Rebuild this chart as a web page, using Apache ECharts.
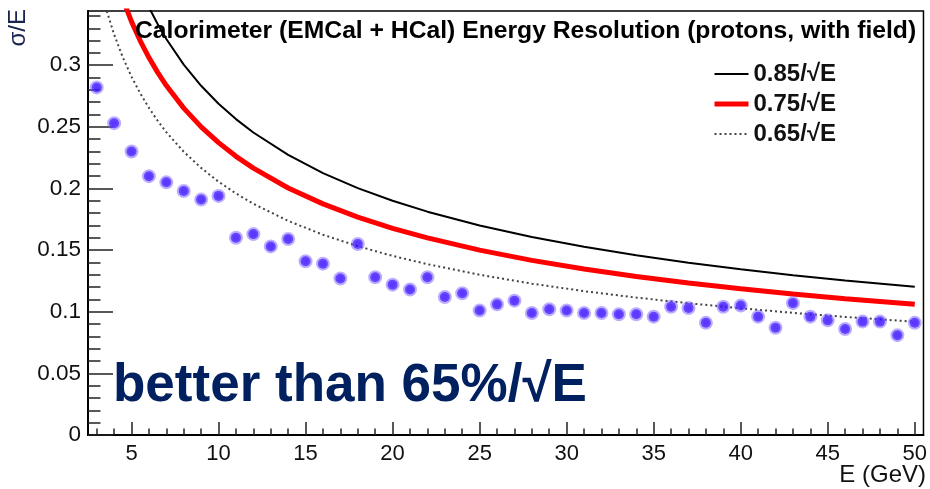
<!DOCTYPE html>
<html>
<head>
<meta charset="utf-8">
<script src="https://cdn.jsdelivr.net/npm/echarts@6/dist/echarts.min.js"></script>
<style>
  html, body { margin: 0; padding: 0; background: #fff; }
  #chart { width: 930px; height: 489px; }
</style>
</head>
<body>
<div id="chart"></div>
<script>
// ---- data ----
const energies = [3, 4, 5, 6, 7, 8, 9, 10, 11, 12, 13, 14, 15, 16, 17, 18, 19, 20, 21, 22, 23, 24, 25, 26,
  27, 28, 29, 30, 31, 32, 33, 34, 35, 36, 37, 38, 39, 40, 41, 42, 43, 44, 45, 46, 47, 48, 49, 50];
const resolution = [0.282, 0.253, 0.230, 0.210, 0.205, 0.198, 0.191, 0.194, 0.160, 0.163, 0.153, 0.159,
  0.141, 0.139, 0.127, 0.155, 0.128, 0.122, 0.118, 0.128, 0.112, 0.115, 0.101, 0.106,
  0.109, 0.099, 0.102, 0.101, 0.099, 0.099, 0.098, 0.098, 0.096, 0.104, 0.103, 0.091,
  0.104, 0.105, 0.096, 0.087, 0.107, 0.096, 0.093, 0.086, 0.092, 0.092, 0.081, 0.091];

const curveEnergies = [3, 3.5, 4, 4.5, 5, 5.5, 6, 6.5, 7, 8, 9, 10, 11, 12, 14, 16, 18, 20, 22, 25, 28, 31, 34, 37, 40, 43, 46, 50];
const curve085 = [0.4907, 0.4543, 0.4250, 0.4007, 0.3801, 0.3624, 0.3470, 0.3334, 0.3213, 0.3005, 0.2833, 0.2688, 0.2563, 0.2454,
  0.2272, 0.2125, 0.2003, 0.1901, 0.1812, 0.1700, 0.1606, 0.1527, 0.1458, 0.1397, 0.1344, 0.1296, 0.1253, 0.1202];
const curve075 = [0.4330, 0.4009, 0.3750, 0.3536, 0.3354, 0.3198, 0.3062, 0.2942, 0.2835, 0.2652, 0.2500, 0.2372, 0.2261, 0.2165,
  0.2004, 0.1875, 0.1768, 0.1677, 0.1599, 0.1500, 0.1417, 0.1347, 0.1286, 0.1233, 0.1186, 0.1144, 0.1106, 0.1061];
const curve065 = [0.3753, 0.3474, 0.3250, 0.3064, 0.2907, 0.2772, 0.2654, 0.2550, 0.2457, 0.2298, 0.2167, 0.2055, 0.1960, 0.1876,
  0.1737, 0.1625, 0.1532, 0.1453, 0.1386, 0.1300, 0.1228, 0.1167, 0.1115, 0.1069, 0.1028, 0.0991, 0.0958, 0.0919];

const curveNames = ['0.85/√E', '0.75/√E', '0.65/√E'];

const xMajorTicks = [5, 10, 15, 20, 25, 30, 35, 40, 45, 50];
const xMinorTicks = [3, 4, 6, 7, 8, 9, 11, 12, 13, 14, 16, 17, 18, 19, 21, 22, 23, 24, 26, 27, 28, 29,
  31, 32, 33, 34, 36, 37, 38, 39, 41, 42, 43, 44, 46, 47, 48, 49];
const yMajorTicks = [0, 0.05, 0.1, 0.15, 0.2, 0.25, 0.3];
const yMinorTicks = [0.01, 0.02, 0.03, 0.04, 0.06, 0.07, 0.08, 0.09, 0.11, 0.12, 0.13, 0.14, 0.16, 0.17, 0.18, 0.19,
  0.21, 0.22, 0.23, 0.24, 0.26, 0.27, 0.28, 0.29, 0.31, 0.32, 0.33, 0.34];

const titleText = 'Calorimeter (EMCal + HCal) Energy Resolution (protons, with field)';
const noteText = 'better than 65%/√E';
const xName = 'E (GeV)';
const yName = 'σ/E';

// ---- chart ----
const FONT = '"Liberation Sans", Arial, Helvetica, sans-serif';
const X_MIN = 2.5, X_MAX = 50.5, Y_MIN = 0, Y_MAX = 0.344;

function zip(xs, ys) { return xs.map((x, i) => [x, ys[i]]); }

const chart = echarts.init(document.getElementById('chart'), null, { renderer: 'canvas' });

const baseX = {
  type: 'value', min: X_MIN, max: X_MAX, position: 'bottom',
  splitLine: { show: false }
};
const baseY = {
  type: 'value', min: Y_MIN, max: Y_MAX, position: 'left',
  splitLine: { show: false }
};

const curveStyles = [
  { color: '#000', width: 2, type: 'solid' },
  { color: '#ff0000', width: 5, type: 'solid' },
  { color: '#444', width: 2, type: [2, 3] }
];

const option = {
  animation: false,
  backgroundColor: '#fff',
  grid: {
    left: 88, right: 4, top: 11, bottom: 54,
    show: true, borderColor: '#000', borderWidth: 1.5, backgroundColor: 'transparent'
  },
  xAxis: [
    Object.assign({}, baseX, {
      axisLine: { show: true, onZero: false, lineStyle: { color: '#000', width: 2 } },
      axisTick: { show: true, inside: true, length: 13, customValues: xMajorTicks, lineStyle: { color: '#222', width: 1.5 } },
      axisLabel: { show: true, customValues: xMajorTicks, margin: 8, color: '#111', fontSize: 22, fontFamily: FONT }
    }),
    Object.assign({}, baseX, {
      axisLine: { show: false, onZero: false },
      axisTick: { show: true, inside: true, length: 6.5, customValues: xMinorTicks, lineStyle: { color: '#222', width: 1.5 } },
      axisLabel: { show: false }
    })
  ],
  yAxis: [
    Object.assign({}, baseY, {
      axisLine: { show: true, onZero: false, lineStyle: { color: '#000', width: 2 } },
      axisTick: { show: true, inside: true, length: 25, customValues: yMajorTicks, lineStyle: { color: '#222', width: 1.5 } },
      axisLabel: { show: true, customValues: yMajorTicks, margin: 7, color: '#111', fontSize: 22.5, fontFamily: FONT }
    }),
    Object.assign({}, baseY, {
      axisLine: { show: false, onZero: false },
      axisTick: { show: true, inside: true, length: 12.5, customValues: yMinorTicks, lineStyle: { color: '#222', width: 1.5 } },
      axisLabel: { show: false }
    })
  ],
  legend: {
    data: curveNames.map((n, i) => ({ name: n, lineStyle: { width: curveStyles[i].width, color: curveStyles[i].color, type: curveStyles[i].type } })),
    orient: 'vertical',
    left: 712, top: 62,
    itemWidth: 34, itemHeight: 14, itemGap: 6,
    padding: 0,
    itemStyle: { opacity: 0 },
    textStyle: { fontSize: 24, fontWeight: 'bold', color: '#111', fontFamily: FONT, lineHeight: 23 }
  },
  series: [
    {
      name: curveNames[0], type: 'line', data: zip(curveEnergies, curve085),
      symbol: 'none', smooth: false, clip: true,
      lineStyle: curveStyles[0], itemStyle: { color: curveStyles[0].color }, z: 2
    },
    {
      name: curveNames[1], type: 'line', data: zip(curveEnergies, curve075),
      symbol: 'none', smooth: false, clip: true,
      lineStyle: curveStyles[1], itemStyle: { color: curveStyles[1].color }, z: 2
    },
    {
      name: curveNames[2], type: 'line', data: zip(curveEnergies, curve065),
      symbol: 'none', smooth: false, clip: true,
      lineStyle: curveStyles[2], itemStyle: { color: curveStyles[2].color }, z: 2
    },
    {
      name: 'data', type: 'scatter', data: zip(energies, resolution),
      symbol: 'circle', symbolSize: 10,
      itemStyle: { color: '#3305ff', borderColor: 'rgba(115,85,255,0.6)', borderWidth: 4 },
      z: 3
    }
  ],
  graphic: [
    {
      type: 'text', left: 135, top: 19, z: 10,
      style: { text: titleText, fontSize: 24.7, fontWeight: 'bold', fill: '#000', fontFamily: FONT }
    },
    {
      type: 'text', left: 113, top: 360, z: 10,
      style: { text: noteText, fontSize: 53, fontWeight: 'bold', fill: '#002060', fontFamily: FONT }
    },
    {
      type: 'text', right: 4, top: 463, z: 10,
      style: { text: xName, fontSize: 24, fill: '#111', fontFamily: FONT }
    },
    {
      type: 'text', x: 18, y: 9, rotation: Math.PI / 2, z: 10,
      style: { text: yName, fontSize: 24, fill: '#1a2550', fontFamily: FONT, align: 'right', verticalAlign: 'middle' }
    }
  ]
};

chart.setOption(option);
</script>
</body>
</html>
